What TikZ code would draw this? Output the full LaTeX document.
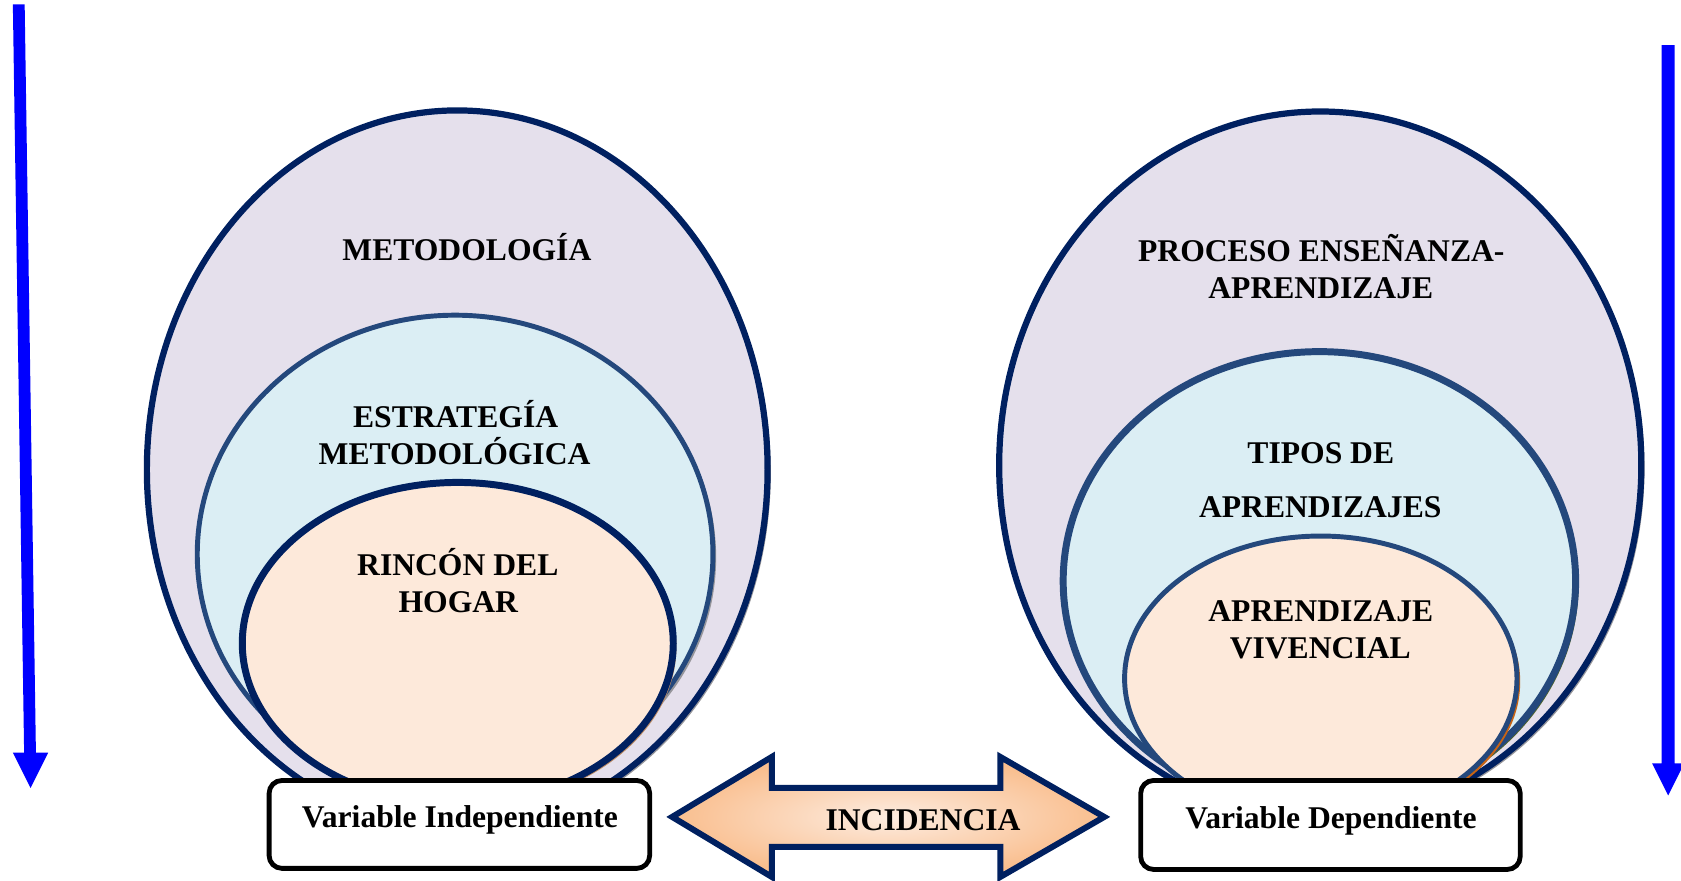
\documentclass[tikz,border=0pt]{standalone}
\usepackage{fontspec}
\setmainfont{Liberation Serif}
\usetikzlibrary{shapes.geometric}
\definecolor{navy}{RGB}{0,32,96}
\definecolor{midblue}{RGB}{36,72,124}
\definecolor{lav}{RGB}{229,224,236}
\definecolor{ltblue}{RGB}{219,238,244}
\definecolor{peach}{RGB}{253,233,218}
\definecolor{plight}{RGB}{253,236,224}
\definecolor{pdark}{RGB}{249,190,142}
\definecolor{blu}{RGB}{0,0,255}
\definecolor{shgray}{RGB}{150,150,155}
\definecolor{shbrown}{RGB}{190,140,100}
\definecolor{sholive}{RGB}{80,100,40}
\definecolor{shorange}{RGB}{200,100,20}
\begin{document}
\begin{tikzpicture}[x=1pt,y=-1pt,
  ell/.style={ellipse, inner sep=0pt, outer sep=0pt},
  lbl/.style={font=\fontsize{29.5}{34}\selectfont\bfseries, inner sep=0pt, anchor=base},
  varbox/.style={draw=black, line width=4.5pt, rounded corners=12pt, fill=white, inner sep=0pt},
  bluearrow/.style={fill=blu, draw=none},
]
\useasboundingbox (0,0) rectangle (1568,821);

% ---------- left ellipses ----------
\node[ell, fill=shgray, minimum width=579pt, minimum height=670pt] (los) at (429.5,441) {};
\node[ell, draw=navy, line width=5.8pt, fill=lav, minimum width=579pt, minimum height=670pt] (lo) at (426.5,438) {};
\node[ell, fill=shgray, minimum width=481pt, minimum height=446pt] (lms) at (427.5,520) {};
\node[ell, draw=midblue, line width=4.6pt, fill=ltblue, minimum width=481pt, minimum height=446pt] (lm) at (424.5,517) {};
\node[ell, fill=shbrown, minimum width=402pt, minimum height=300pt] (lis) at (430,603) {};
\node[ell, draw=navy, line width=6.5pt, fill=peach, minimum width=402pt, minimum height=300pt] (li) at (427,600) {};

\node[lbl] (t1) at (435.5,243) {METODOLOGÍA};
\node[lbl] (t2) at (425,399) {ESTRATEGÍA};
\node[lbl] (t3) at (424,433) {METODOLÓGICA};
\node[lbl] (t4) at (427,537) {RINCÓN DEL};
\node[lbl] (t5) at (427.5,571) {HOGAR};

% ---------- right ellipses ----------
\node[ell, fill=shgray, minimum width=599pt, minimum height=660pt] (ros) at (1234.5,437) {};
\node[ell, draw=navy, line width=5.8pt, fill=lav, minimum width=599pt, minimum height=660pt] (ro) at (1231.5,434) {};
\node[ell, fill=sholive, minimum width=478pt, minimum height=428pt] (rms) at (1233.5,545) {};
\node[ell, draw=midblue, line width=6.5pt, fill=ltblue, minimum width=478pt, minimum height=428pt] (rm) at (1230.7,542) {};
\node[ell, fill=shorange, minimum width=366pt, minimum height=266pt] (ris) at (1235,636) {};
\node[ell, draw=midblue, line width=4.6pt, fill=peach, minimum width=366pt, minimum height=266pt] (ri) at (1232,633) {};

\node[lbl] (u1) at (1232.5,244) {PROCESO ENSEÑANZA-};
\node[lbl] (u2) at (1232,278) {APRENDIZAJE};
\node[lbl] (u3) at (1232,432) {TIPOS DE};
\node[lbl] (u4) at (1231.5,483) {APRENDIZAJES};
\node[lbl] (u5) at (1232,580) {APRENDIZAJE};
\node[lbl] (u6) at (1231.5,614) {VIVENCIAL};

% ---------- variable boxes ----------
\node[varbox, minimum width=355pt, minimum height=82pt] (vi) at (428.5,769) {};
\node[lbl] (vit) at (429,772) {Variable Independiente};
\node[varbox, minimum width=354pt, minimum height=83pt] (vd) at (1241,769.5) {};
\node[lbl] (vdt) at (1241.5,773) {Variable Dependiente};

% ---------- double arrow ----------
\coordinate (a1) at (627,762);
\coordinate (a2) at (720,706);
\coordinate (a3) at (720,735);
\coordinate (a4) at (933,735);
\coordinate (a5) at (933,706);
\coordinate (a6) at (1030,762);
\coordinate (a7) at (933,818);
\coordinate (a8) at (933,790);
\coordinate (a9) at (720,790);
\coordinate (a10) at (720,818);
\fill[shbrown, shift={(4pt,-4pt)}] (a1) -- (a2) -- (a3) -- (a4) -- (a5) -- (a6) -- (a7) -- (a8) -- (a9) -- (a10) -- cycle;
\draw[navy, line width=5.6pt, line join=miter, inner color=plight, outer color=pdark]
  (a1) -- (a2) -- (a3) -- (a4) -- (a5) -- (a6) -- (a7) -- (a8) -- (a9) -- (a10) -- cycle;
\node[lbl] (inc) at (861,775) {INCIDENCIA};

% ---------- blue side arrows ----------
\coordinate (l1) at (12,4);
\coordinate (l2) at (23,4);
\coordinate (l3) at (33.5,702);
\coordinate (l4) at (45,702);
\coordinate (l5) at (28.5,735);
\coordinate (l6) at (12,702);
\coordinate (l7) at (22.5,702);
\fill[bluearrow] (l1) -- (l2) -- (l3) -- (l4) -- (l5) -- (l6) -- (l7) -- cycle;

\coordinate (r1) at (1550,42);
\coordinate (r2) at (1562,42);
\coordinate (r3) at (1562,712);
\coordinate (r4) at (1571,712);
\coordinate (r5) at (1556,742);
\coordinate (r6) at (1541,712);
\coordinate (r7) at (1550,712);
\fill[bluearrow] (r1) -- (r2) -- (r3) -- (r4) -- (r5) -- (r6) -- (r7) -- cycle;
\end{tikzpicture}
\end{document}
